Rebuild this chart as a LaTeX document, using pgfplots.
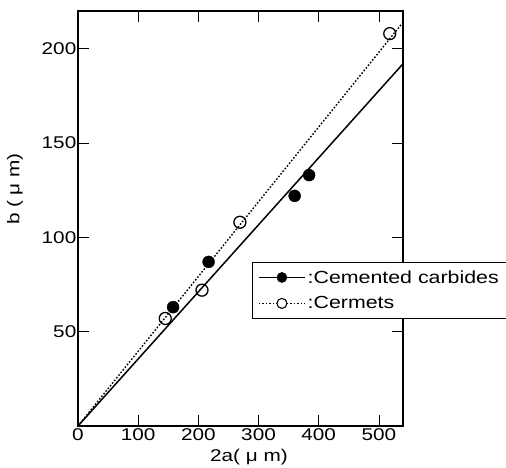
\documentclass[border=0pt]{standalone}
\usepackage{fontspec}
\setmainfont{Liberation Sans}[FakeStretch=1.22]
\usepackage{pgfplots}
\pgfplotsset{compat=1.18}
\newcommand{\tickf}{\fontsize{17}{20}\selectfont}
\newcommand{\legf}{\fontsize{17.5}{21}\selectfont}
\begin{document}
\begin{tikzpicture}
\begin{axis}[
  at={(0,0)}, anchor=south west,
  width=325pt, height=415pt, scale only axis,
  xmin=0, xmax=540, ymin=0, ymax=220,
  xtick={0,100,200,300,400,500},
  ytick={50,100,150,200},
  xticklabel={\tickf\pgfmathprintnumber[assume math mode=true]{\tick}},
  yticklabel={\tickf\pgfmathprintnumber[assume math mode=true]{\tick}},
  tick align=inside,
  major tick length=11pt,
  every tick/.style={black, line width=0.6pt},
  axis line style={line width=1.5pt},
  xticklabel style={font=\tickf, inner sep=2pt},
  yticklabel style={font=\tickf, inner sep=1.5pt},
  xlabel={2a( μ m)},
  ylabel={b ( μ m)},
  xlabel style={font=\tickf, at={(rel axis cs:0.526,0)}, anchor=base, yshift=-36pt},
  ylabel style={font=\tickf, at={(axis description cs:-0.194,0.571)}, anchor=center, rotate=0},
  legend style={at={(axis description cs:0.535,0.395)}, anchor=north west,
    font=\legf, draw=black, line width=0.6pt, fill=white,
    inner xsep=6pt, inner ysep=6pt, row sep=8pt, cells={anchor=west}},
  legend cell align=left,
]
% fitted lines
\addplot[black, line width=1.5pt, forget plot] coordinates {(0,0) (540,192)};
\addplot[black, line width=1.4pt, dash pattern=on 1.6pt off 1.8pt, forget plot] coordinates {(0,0) (540,214)};
% data
\addplot[only marks, mark=*, mark size=6pt, black, forget plot] coordinates {
  (158,63) (217,87) (360,122) (384,133)};
\addplot[only marks, mark=o, mark size=6pt, black, line width=1.3pt, mark options={fill=white}, forget plot] coordinates {
  (145,57) (206,72) (269,108) (518,208)};
% legend
\addlegendimage{legend image code/.code={
  \draw[black, line width=1.5pt] (0pt,0pt) -- (46pt,0pt);
  \fill[black] (23pt,0pt) circle (5pt);}}
\addlegendentry{:Cemented carbides\hspace*{12pt}}
\addlegendimage{legend image code/.code={
  \draw[black, line width=1.1pt, dash pattern=on 1.5pt off 2pt] (0pt,0pt) -- (46pt,0pt);
  \draw[black, line width=1.1pt, fill=white] (23pt,0pt) circle (5pt);}}
\addlegendentry{:Cermets}
\end{axis}
\pgfresetboundingbox
\path (-78pt,-42pt) rectangle (428pt,426pt);
\end{tikzpicture}
\end{document}
